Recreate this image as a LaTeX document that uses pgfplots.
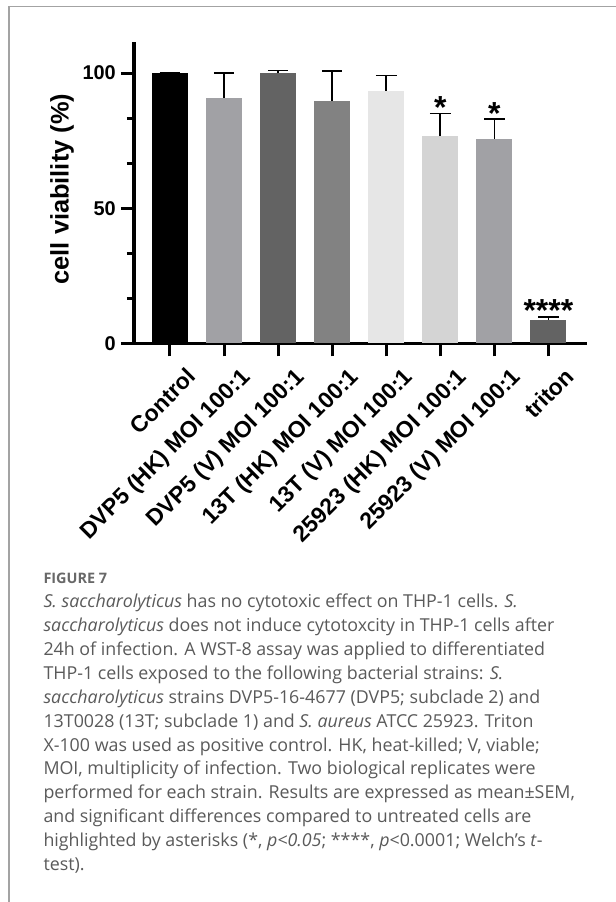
\documentclass[border=0pt]{standalone}
\usepackage{fontspec}
\setmainfont{Liberation Sans}
\newfontfamily\capfont{Open Sans}
\usepackage{pgfplots}
\pgfplotsset{compat=1.18}
\definecolor{frame}{HTML}{A3A3A3}
\definecolor{captxt}{HTML}{5A5A5A}
\definecolor{capfig}{HTML}{686868}
\definecolor{gA}{HTML}{A1A1A5}
\definecolor{gB}{HTML}{636363}
\definecolor{gC}{HTML}{828282}
\definecolor{gD}{HTML}{E6E6E6}
\definecolor{gE}{HTML}{D4D4D4}
\pgfplotsset{barst/.style={ybar, bar width=36bp, draw=none, fill=#1,
  error bars/.cd, y dir=plus, y explicit,
  error bar style={line width=1.6bp, draw=black, solid},
  error mark options={rotate=90, mark size=10.3bp, line width=1.6bp, draw=black}}}
\newcommand{\capline}[2]{\node[anchor=base west, inner sep=0pt, text=captxt, font=\capfont\fontsize{17.9}{24}\selectfont] at (43.3bp,-#1bp) {#2};}
\begin{document}
\begin{tikzpicture}
\useasboundingbox (0,0) rectangle (616bp,-902bp);
\fill[white] (0,0) rectangle (616bp,-902bp);
\draw[frame, line width=1.3bp] (9bp,-902bp) -- (9bp,-6.3bp) -- (616bp,-6.3bp);
\begin{axis}[
  at={(134bp,-343.3bp)}, anchor=south west,
  scale only axis, width=451bp, height=300bp,
  xmin=-0.666, xmax=7.678, ymin=0, ymax=111,
  axis lines=left,
  axis line style={-, line width=3bp, line cap=rect},
  tick align=outside,
  major tick length=13bp, minor tick length=7bp,
  tick style={line width=3bp, black},
  xtick={0,1,2,3,4,5,6,7},
  xticklabels={Control, DVP5 (HK) MOI 100:1, DVP5 (V) MOI 100:1, 13T (HK) MOI 100:1, 13T (V) MOI 100:1, 25923 (HK) MOI 100:1, 25923 (V) MOI 100:1, triton},
  xticklabel style={rotate=45, anchor=north east, inner sep=0pt, xshift=4bp, yshift=-18bp, font=\bfseries\fontsize{23}{23}\selectfont},
  ytick={0,50,100},
  minor ytick={16.667,33.333,66.667,83.333},
  yticklabel style={inner sep=0pt, xshift=-5bp, font=\bfseries\fontsize{20}{20}\selectfont},
  /pgf/number format/assume math mode=true,
  ylabel={cell viability (\%)},
  ylabel style={at={(axis description cs:-0.1596,0.514)}, anchor=center, font=\bfseries\fontsize{25.5}{25.5}\selectfont},
  clip=false,
]
\addplot[barst=black] coordinates {(0,100) +- (0,0)};
\addplot[barst=gA] coordinates {(1,90.9) +- (0,9.1)};
\addplot[barst=gB] coordinates {(2,100) +- (0,1.0)};
\addplot[barst=gC] coordinates {(3,89.7) +- (0,11.0)};
\addplot[barst=gD] coordinates {(4,93.4) +- (0,5.7)};
\addplot[barst=gE] coordinates {(5,76.7) +- (0,8.3)};
\addplot[barst=gA] coordinates {(6,75.6) +- (0,7.3)};
\addplot[barst=gB] coordinates {(7,8.7) +- (0,1.0)};
\draw[line width=3bp] (axis cs:-0.666,0) -- ++(-12bp,0);
\node[anchor=base, inner sep=0pt, font=\bfseries\fontsize{32}{32}\selectfont, yshift=-18.9bp] at (axis cs:5,90.2) {*};
\node[anchor=base, inner sep=0pt, font=\bfseries\fontsize{32}{32}\selectfont, yshift=-18.9bp] at (axis cs:6,88.1) {*};
\node[anchor=base, inner sep=0pt, font=\bfseries\fontsize{32}{32}\selectfont, yshift=-18.9bp] at (axis cs:7,14.9) {****};
\end{axis}
\node[anchor=base west, inner sep=0pt, text=capfig, font=\capfont\bfseries\fontsize{14.5}{16}\selectfont] at (43.3bp,-583.3bp) {FIGURE 7};
\capline{607.3}{\textit{S. saccharolyticus} has no cytotoxic effect on THP-1 cells. \textit{S.}}
\capline{631.25}{\textit{saccharolyticus} does not induce cytotoxcity in THP-1 cells after}
\capline{655.2}{24h of infection. A WST-8 assay was applied to differentiated}
\capline{679.15}{THP-1 cells exposed to the following bacterial strains: \textit{S.}}
\capline{703.1}{\textit{saccharolyticus} strains DVP5-16-4677 (DVP5; subclade 2) and}
\capline{727.05}{13T0028 (13T; subclade 1) and \textit{S. aureus} ATCC 25923. Triton}
\capline{751.0}{X-100 was used as positive control. HK, heat-killed; V, viable;}
\capline{774.95}{MOI, multiplicity of infection. Two biological replicates were}
\capline{798.9}{performed for each strain. Results are expressed as mean±SEM,}
\capline{822.85}{and significant differences compared to untreated cells are}
\capline{846.8}{highlighted by asterisks (*, \textit{p<0.05}; ****, \textit{p}<0.0001; Welch’s \textit{t}-}
\capline{870.75}{test).}
\end{tikzpicture}
\end{document}
